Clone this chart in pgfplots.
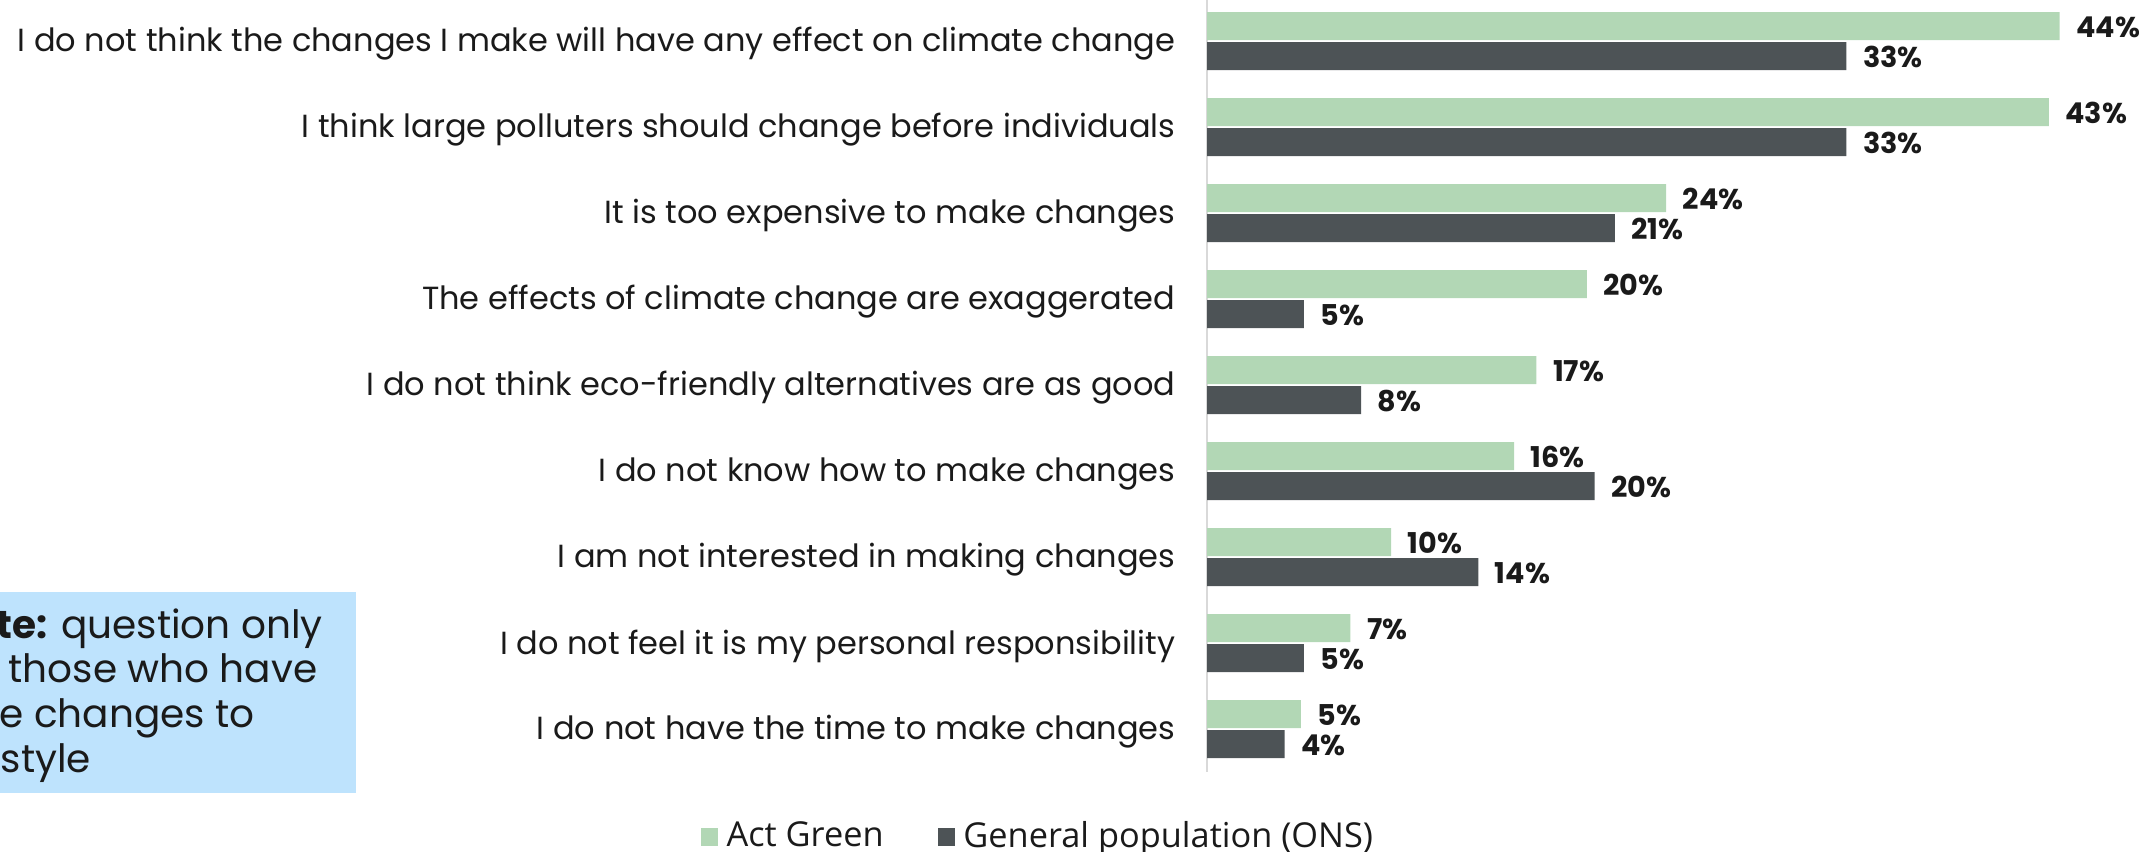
\documentclass[border=0pt]{standalone}
\usepackage{fontspec}
\setmainfont{Poppins}
\newfontfamily\legendfont{Open Sans}
\usepackage{pgfplots}
\pgfplotsset{compat=1.18}
\definecolor{actgreen}{HTML}{B2D7B5}
\definecolor{onsgrey}{HTML}{4D5356}
\definecolor{notebg}{HTML}{BEE3FD}
\definecolor{txt}{HTML}{1A1A1A}
\definecolor{axisgrey}{HTML}{D9D9D9}

\begin{document}
\begin{tikzpicture}
% picture frame: 2139 x 851 px, 1 px = 0.3pt
\useasboundingbox (0,0) rectangle (641.7pt,255.3pt);
\clip (0,0) rectangle (641.7pt,255.3pt);

% note box, cut at the left edge as in the original
\fill[notebg] (-20pt,17.4pt) rectangle (106.8pt,77.7pt);
\begin{scope}[every node/.style={anchor=base east,inner sep=0pt,font=\fontsize{11.7}{14}\selectfont,text=txt}]
\node at (97.0pt,63.8pt) {\textbf{Note:} question only};
\node at (95.4pt,50.6pt) {asked to those who have};
\node at (76.6pt,37.1pt) {made changes to};
\node at (27.5pt,23.6pt) {their lifestyle};
\end{scope}

\begin{axis}[
  at={(362.1pt,23.7pt)}, anchor=south west,
  scale only axis,
  width=279.6pt, height=232.2pt,
  xbar, bar width=8.4pt,
  xmin=0, xmax=48.1,
  ymin=-0.5, ymax=8.5,
  y dir=reverse,
  axis x line=none,
  axis y line=left,
  axis line style={-, axisgrey, line width=0.6pt},
  ytick={0,...,8},
  yticklabels={
    I do not think the changes I make will have any effect on climate change,
    I think large polluters should change before individuals,
    It is too expensive to make changes,
    The effects of climate change are exaggerated,
    I do not think eco-friendly alternatives are as good,
    I do not know how to make changes,
    I am not interested in making changes,
    I do not feel it is my personal responsibility,
    I do not have the time to make changes},
  major tick length=0pt,
  ytick style={draw=none},
  yticklabel style={font=\fontsize{9.6}{12}\selectfont, text=txt, inner sep=0pt, xshift=-9.3pt, yshift=-0.9pt},
  point meta=explicit symbolic,
  nodes near coords={\pgfplotspointmeta\%},
  nodes near coords style={font=\bfseries\fontsize{8.6}{10}\selectfont, text=txt, anchor=west, inner sep=0pt, xshift=4.8pt, yshift=-0.3pt},
  legend style={at={(-0.178,-0.084)}, anchor=center, draw=none, fill=none,
    font=\legendfont\fontsize{10.3}{12}\selectfont, text=txt,
    nodes={inner xsep=2.5pt},
    /tikz/every even column/.append style={column sep=13.7pt}},
  legend columns=2,
  legend image code/.code={\fill[#1] (0pt,-2.7pt) rectangle (5.25pt,2.7pt);},
]
\addplot[fill=actgreen, draw=none, bar shift=4.5pt] coordinates {
  (44.0,0) [44] (43.45,1) [43] (23.7,2) [24] (19.6,3) [20] (17.0,4) [17]
  (15.85,5) [16] (9.5,6) [10] (7.4,7) [7] (4.85,8) [5]};
\addplot[fill=onsgrey, draw=none, bar shift=-4.5pt] coordinates {
  (33.0,0) [33] (33.0,1) [33] (21.05,2) [21] (5.0,3) [5] (7.96,4) [8]
  (20.0,5) [20] (14.0,6) [14] (5.0,7) [5] (4.0,8) [4]};
\legend{Act Green, General population (ONS)}
\end{axis}
\end{tikzpicture}
\end{document}
